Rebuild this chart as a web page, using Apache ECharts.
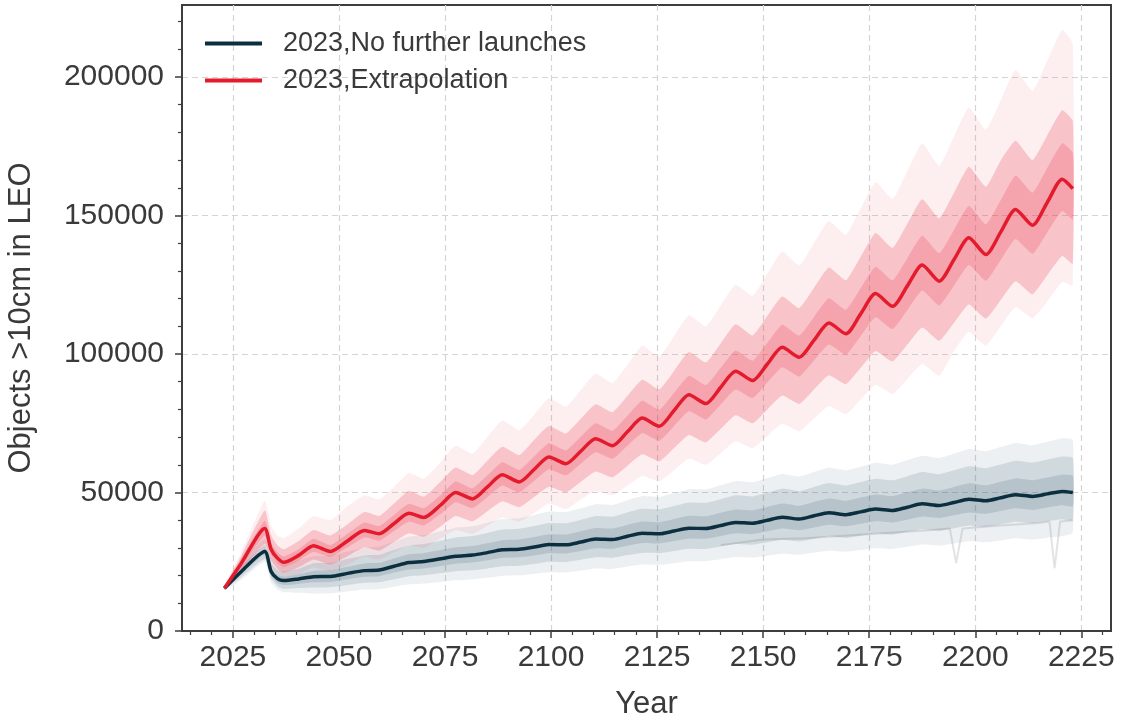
<!DOCTYPE html>
<html><head><meta charset="utf-8">
<script src="https://cdn.jsdelivr.net/npm/echarts@6/dist/echarts.min.js"></script>
<style>html,body{margin:0;padding:0;background:#fff}#c{width:1121px;height:721px}</style>
</head><body><div id="c"></div>
<script>
// ---------- data ----------
const YEARS = [2023,2027,2032.5,2034,2035.5,2037,2040.5,2044,2048,2052,2056,2059.5,2063,2066.5,2070,2074,2077.5,2081.5,2085,2088.5,2092.5,2096,2099.5,2103.5,2107,2110.5,2114.5,2118,2121.5,2125.5,2129,2132.5,2136.5,2140,2143.5,2147.5,2151,2154.5,2158.5,2162,2165.5,2169.5,2173,2176.5,2180.5,2184,2187.5,2191.5,2195,2198.5,2202.5,2206,2209.5,2213.5,2217,2220.5,2223];

const RED_MEAN = [15400,24500,37000,29500,26300,24800,27300,30800,28700,32500,36300,35100,38800,42500,41000,45500,50000,47700,52000,56400,53800,58300,62800,60400,64900,69400,66900,71900,76900,73900,79600,85300,82100,88000,93800,90400,96400,102400,98800,105000,111200,107300,114500,121800,117200,124600,132100,126300,134100,142000,135900,144000,152200,146500,154800,163100,159700];
const RED_CORE_LOW = [15200,23300,34500,27500,24500,23100,25400,28600,26700,30200,33800,32600,36100,39500,38100,42300,46500,44400,48400,52500,50000,54200,58400,56200,60400,64500,62200,66900,71500,68700,74000,79300,76400,81800,87200,84100,89700,95200,91900,97700,103400,99800,106500,113300,109000,115900,122900,117500,124700,132100,126400,133900,141500,136200,144000,151700,148500];
const RED_CORE_HIGH = [15800,26300,39800,31900,28400,26800,29500,33300,31000,35100,39200,37900,41900,45900,44300,49100,54000,51500,56200,60900,58100,63000,67800,65200,70100,75000,72300,77700,83100,79800,86000,92100,88700,95000,101300,97600,104100,110600,106700,113400,120100,115900,123700,131500,126600,134600,142700,136400,144800,153400,146800,155500,164400,158200,167200,176100,172500];
const RED_DENSE_LOW = [15000,22000,31500,25500,22500,21000,23000,25800,24000,27000,30200,29000,32200,35300,34000,37800,41500,39600,43200,46800,44700,48400,52100,50100,53900,57600,55500,59700,63800,61300,66100,70800,68100,73000,77900,75000,80000,85000,82000,87200,92300,89100,95000,101100,97300,103400,109600,104800,111300,117900,112800,119500,126300,121600,128500,135400,132600];
const RED_DENSE_HIGH = [16000,27200,43500,34500,31000,29500,32500,36500,34500,38500,43000,41500,46000,50500,48500,54000,59000,56300,61500,66500,63500,69000,74000,71300,76600,81900,79000,84800,90700,87200,93900,100700,96900,103800,110700,106700,113800,120800,116600,123900,131200,126600,135100,143700,138300,147000,155900,149000,158200,167600,160400,169900,177000,170000,179000,188000,184000];
const RED_OUTER_LOW = [14800,21000,29000,23500,20500,19500,20500,23000,21500,24000,26800,25800,28500,31000,30000,33500,36500,35000,38000,41000,39500,42500,46000,44000,47500,50500,49000,52500,56000,54000,58000,62300,60000,64200,68500,66000,70400,74800,72100,76700,81200,78300,83600,88900,85600,91000,96400,92200,101000,108000,103000,110000,117000,113000,119000,126000,125000];
const RED_OUTER_HIGH = [16500,28500,47000,38000,34500,33500,37000,41500,40000,45000,49000,47500,52000,57000,55000,61000,67000,64000,70000,76000,72500,78000,84000,81000,87000,93000,89500,96000,103000,99000,106500,114000,110000,117500,125000,121000,129000,137000,132000,140000,148000,143000,152500,162000,156000,166000,176000,168000,178500,189000,181000,191500,202500,195000,206000,217000,212000];

const DARK_MEAN = [15400,21500,28700,21500,18900,18200,18800,19600,19700,20800,21800,22000,23400,24700,25100,26100,27000,27400,28300,29300,29500,30300,31200,31100,32100,33200,33000,34200,35300,35100,36100,37100,37000,38100,39200,38900,40000,41100,40400,41600,42700,42000,43000,44000,43500,44700,45900,45300,46400,47600,47000,48100,49200,48600,49500,50400,50000];
const DARK_CORE_LOW = [15200,20400,27600,20000,17300,16600,17000,17600,17700,18700,19600,19800,21100,22200,22600,23500,24300,24700,25500,26400,26600,27300,28100,28000,28900,29900,29700,30800,31800,31600,32500,33400,33300,34300,35300,35000,36000,37000,36400,37400,38400,37800,38700,39600,39200,40200,41300,40800,41800,42800,42300,43300,44300,43700,44600,45400,45000];
const DARK_CORE_HIGH = [15600,22600,29700,23000,20200,19600,20500,21700,21900,23200,24400,24600,26200,27700,28100,29200,30200,30700,31700,32800,33000,33900,34900,34800,36000,37200,37000,38300,39500,39300,40400,41600,41400,42700,43900,43600,44800,46000,45200,46600,47800,47000,48200,49300,48700,50100,51400,50700,52000,53300,52600,53900,55100,54400,55400,56400,56000];
const DARK_DENSE_LOW = [14900,19500,26000,19000,16200,15200,15500,15700,15800,16600,17400,17600,18700,19800,20100,20900,21600,21900,22600,23400,23600,24200,25000,24900,25700,26600,26400,27400,28200,28100,28900,29700,29600,30500,31400,31100,32000,32900,32300,33300,34200,33600,34400,35200,34800,35800,36700,36200,37100,38100,37600,38500,39400,38900,39600,40300,40000];
const DARK_DENSE_HIGH = [16000,23500,31000,24500,22000,21500,22500,24500,24600,26000,27300,27500,29300,30900,31400,32600,33800,34300,35400,36600,36900,37900,39000,38900,40100,41500,41300,42800,44100,43900,45100,46400,46300,47600,49000,48600,50000,51400,50500,52000,53400,52500,53800,55000,54400,55900,57400,56600,58000,59500,58800,60100,61500,60800,61900,63000,62500];
const DARK_OUTER_LOW = [14700,18500,25000,17500,15000,14000,13800,13500,13600,14300,15000,15100,16000,16900,17100,17700,18300,18600,19200,19900,20100,20600,21200,21100,21800,22600,22400,23300,24000,23900,24500,25200,25200,25900,26700,26500,27200,27900,27500,28300,29000,28600,29200,29900,29600,30400,31200,30800,31600,32400,32000,32700,33500,33000,33700,34300,35500];
const DARK_OUTER_HIGH = [16300,25000,33000,27000,25000,24000,25500,27000,27200,28700,30100,30400,32300,34100,34600,36000,37300,37800,39100,40400,40700,41800,43100,42900,44300,45800,45500,47200,48700,48400,49800,51200,51100,52600,54100,53700,55200,56700,55800,57400,58900,58000,59300,60700,60000,61700,63300,62500,64000,65700,64900,66400,67900,67100,68300,69600,69000];

const SPIKE_YEARS = [2140,2150,2160,2170,2180,2190,2194,2195.5,2197,2205,2215,2217.5,2218.7,2220,2223];
const SPIKE_VALUES = [31000,33000,33500,34500,35500,36500,37000,24500,37000,38000,39000,39500,22700,39500,40000];

const X_MAJOR = [2025,2050,2075,2100,2125,2150,2175,2200,2225];
const X_MINOR = [2015,2020,2030,2035,2040,2045,2055,2060,2065,2070,2080,2085,2090,2095,2105,2110,2115,2120,2130,2135,2140,2145,2155,2160,2165,2170,2180,2185,2190,2195,2205,2210,2215,2220,2230];
const Y_MAJOR = [0,50000,100000,150000,200000];
const Y_MINOR = [10000,20000,30000,40000,60000,70000,80000,90000,110000,120000,130000,140000,160000,170000,180000,190000,210000,220000];

const NAME_DARK = '2023,No further launches';
const NAME_RED = '2023,Extrapolation';

// ---------- build ----------
const FONT = "'Liberation Sans', Arial, sans-serif";
const AX = '#3d3d3d';
const TXT = '#3a3a3a';
const pairs = (xs, ys) => xs.map((x, i) => [x, ys[i]]);

// filled band between two value arrays, drawn through the cartesian scales
function band(lo, hi, color, z) {
  return {
    type:'custom', coordinateSystem:'cartesian2d', silent:true, z:z, clip:true,
    data:[[2100, 50000]],
    renderItem:function (params, api) {
      const pts = [];
      for (let i = 0; i < YEARS.length; i++) pts.push(api.coord([YEARS[i], hi[i]]));
      for (let i = YEARS.length - 1; i >= 0; i--) pts.push(api.coord([YEARS[i], lo[i]]));
      return {type:'polygon', shape:{points:pts, smooth:0.15}, style:{fill:color}};
    }
  };
}

const plainNum = v => String(Math.round(v));

const series = [
  {type:'line', data:pairs(SPIKE_YEARS, SPIKE_VALUES), symbol:'none',
   lineStyle:{color:'rgba(222,222,226,0.85)', width:2}, silent:true, z:1},
  band(DARK_OUTER_LOW, DARK_OUTER_HIGH, 'rgba(80,110,130,0.10)', 2),
  band(DARK_DENSE_LOW, DARK_DENSE_HIGH, 'rgba(50,85,105,0.15)', 2),
  band(DARK_CORE_LOW, DARK_CORE_HIGH, 'rgba(40,75,95,0.15)', 2),
  band(RED_OUTER_LOW, RED_OUTER_HIGH, 'rgba(235,90,110,0.10)', 3),
  band(RED_DENSE_LOW, RED_DENSE_HIGH, 'rgba(236,60,80,0.24)', 3),
  band(RED_CORE_LOW, RED_CORE_HIGH, 'rgba(236,55,75,0.22)', 3),
  {name:NAME_DARK, type:'line', data:pairs(YEARS, DARK_MEAN), symbol:'none', smooth:0.25,
   color:'#0c2f40', lineStyle:{color:'#0c2f40', width:3.5}, z:5},
  {name:NAME_RED, type:'line', data:pairs(YEARS, RED_MEAN), symbol:'none', smooth:0.25,
   color:'#e31b2c', lineStyle:{color:'#e31b2c', width:3.5}, z:6}
];

const chart = echarts.init(document.getElementById('c'), null, {renderer:'canvas'});
chart.setOption({
  animation:false,
  backgroundColor:'#fff',
  grid:{left:182, right:10, top:5, bottom:90, outerBoundsMode:'none', containLabel:false,
    show:true, borderColor:AX, borderWidth:2, backgroundColor:'transparent'},
  legend:{data:[NAME_DARK, NAME_RED], orient:'vertical', left:200, top:25, icon:'rect',
    itemWidth:57, itemHeight:4, itemGap:10,
    textStyle:{fontSize:27, color:TXT, fontFamily:FONT, padding:[0,0,0,16]}},
  xAxis:[
    {type:'value', min:2013, max:2232, position:'bottom',
     name:'Year', nameLocation:'middle', nameGap:58,
     nameTextStyle:{fontSize:31, color:TXT, fontFamily:FONT},
     axisLine:{show:true, onZero:false, lineStyle:{color:AX, width:2}},
     axisTick:{show:true, customValues:X_MAJOR, length:7, lineStyle:{color:AX, width:1.5}},
     axisLabel:{customValues:X_MAJOR, formatter:plainNum, fontSize:30, color:TXT, fontFamily:FONT, margin:12},
     splitLine:{show:true, lineStyle:{type:[6,4], color:'#d4d4d4', width:1.2}}},
    {type:'value', min:2013, max:2232, position:'bottom',
     axisLine:{show:false, onZero:false},
     axisTick:{show:true, customValues:X_MINOR, length:4, lineStyle:{color:AX, width:1.2}},
     axisLabel:{show:false}, splitLine:{show:false}}
  ],
  yAxis:[
    {type:'value', min:0, max:226000, position:'left',
     name:'Objects >10cm in LEO', nameLocation:'middle', nameGap:145, nameRotate:90,
     nameTextStyle:{fontSize:31, color:TXT, fontFamily:FONT},
     axisLine:{show:true, onZero:false, lineStyle:{color:AX, width:2}},
     axisTick:{show:true, customValues:Y_MAJOR, length:7, lineStyle:{color:AX, width:1.5}},
     axisLabel:{customValues:Y_MAJOR, formatter:plainNum, fontSize:30, color:TXT, fontFamily:FONT, margin:18},
     splitLine:{show:true, lineStyle:{type:[6,4], color:'#d4d4d4', width:1.2}}},
    {type:'value', min:0, max:226000, position:'left',
     axisLine:{show:false, onZero:false},
     axisTick:{show:true, customValues:Y_MINOR, length:4, lineStyle:{color:AX, width:1.2}},
     axisLabel:{show:false}, splitLine:{show:false}}
  ],
  series:series
});
</script></body></html>
